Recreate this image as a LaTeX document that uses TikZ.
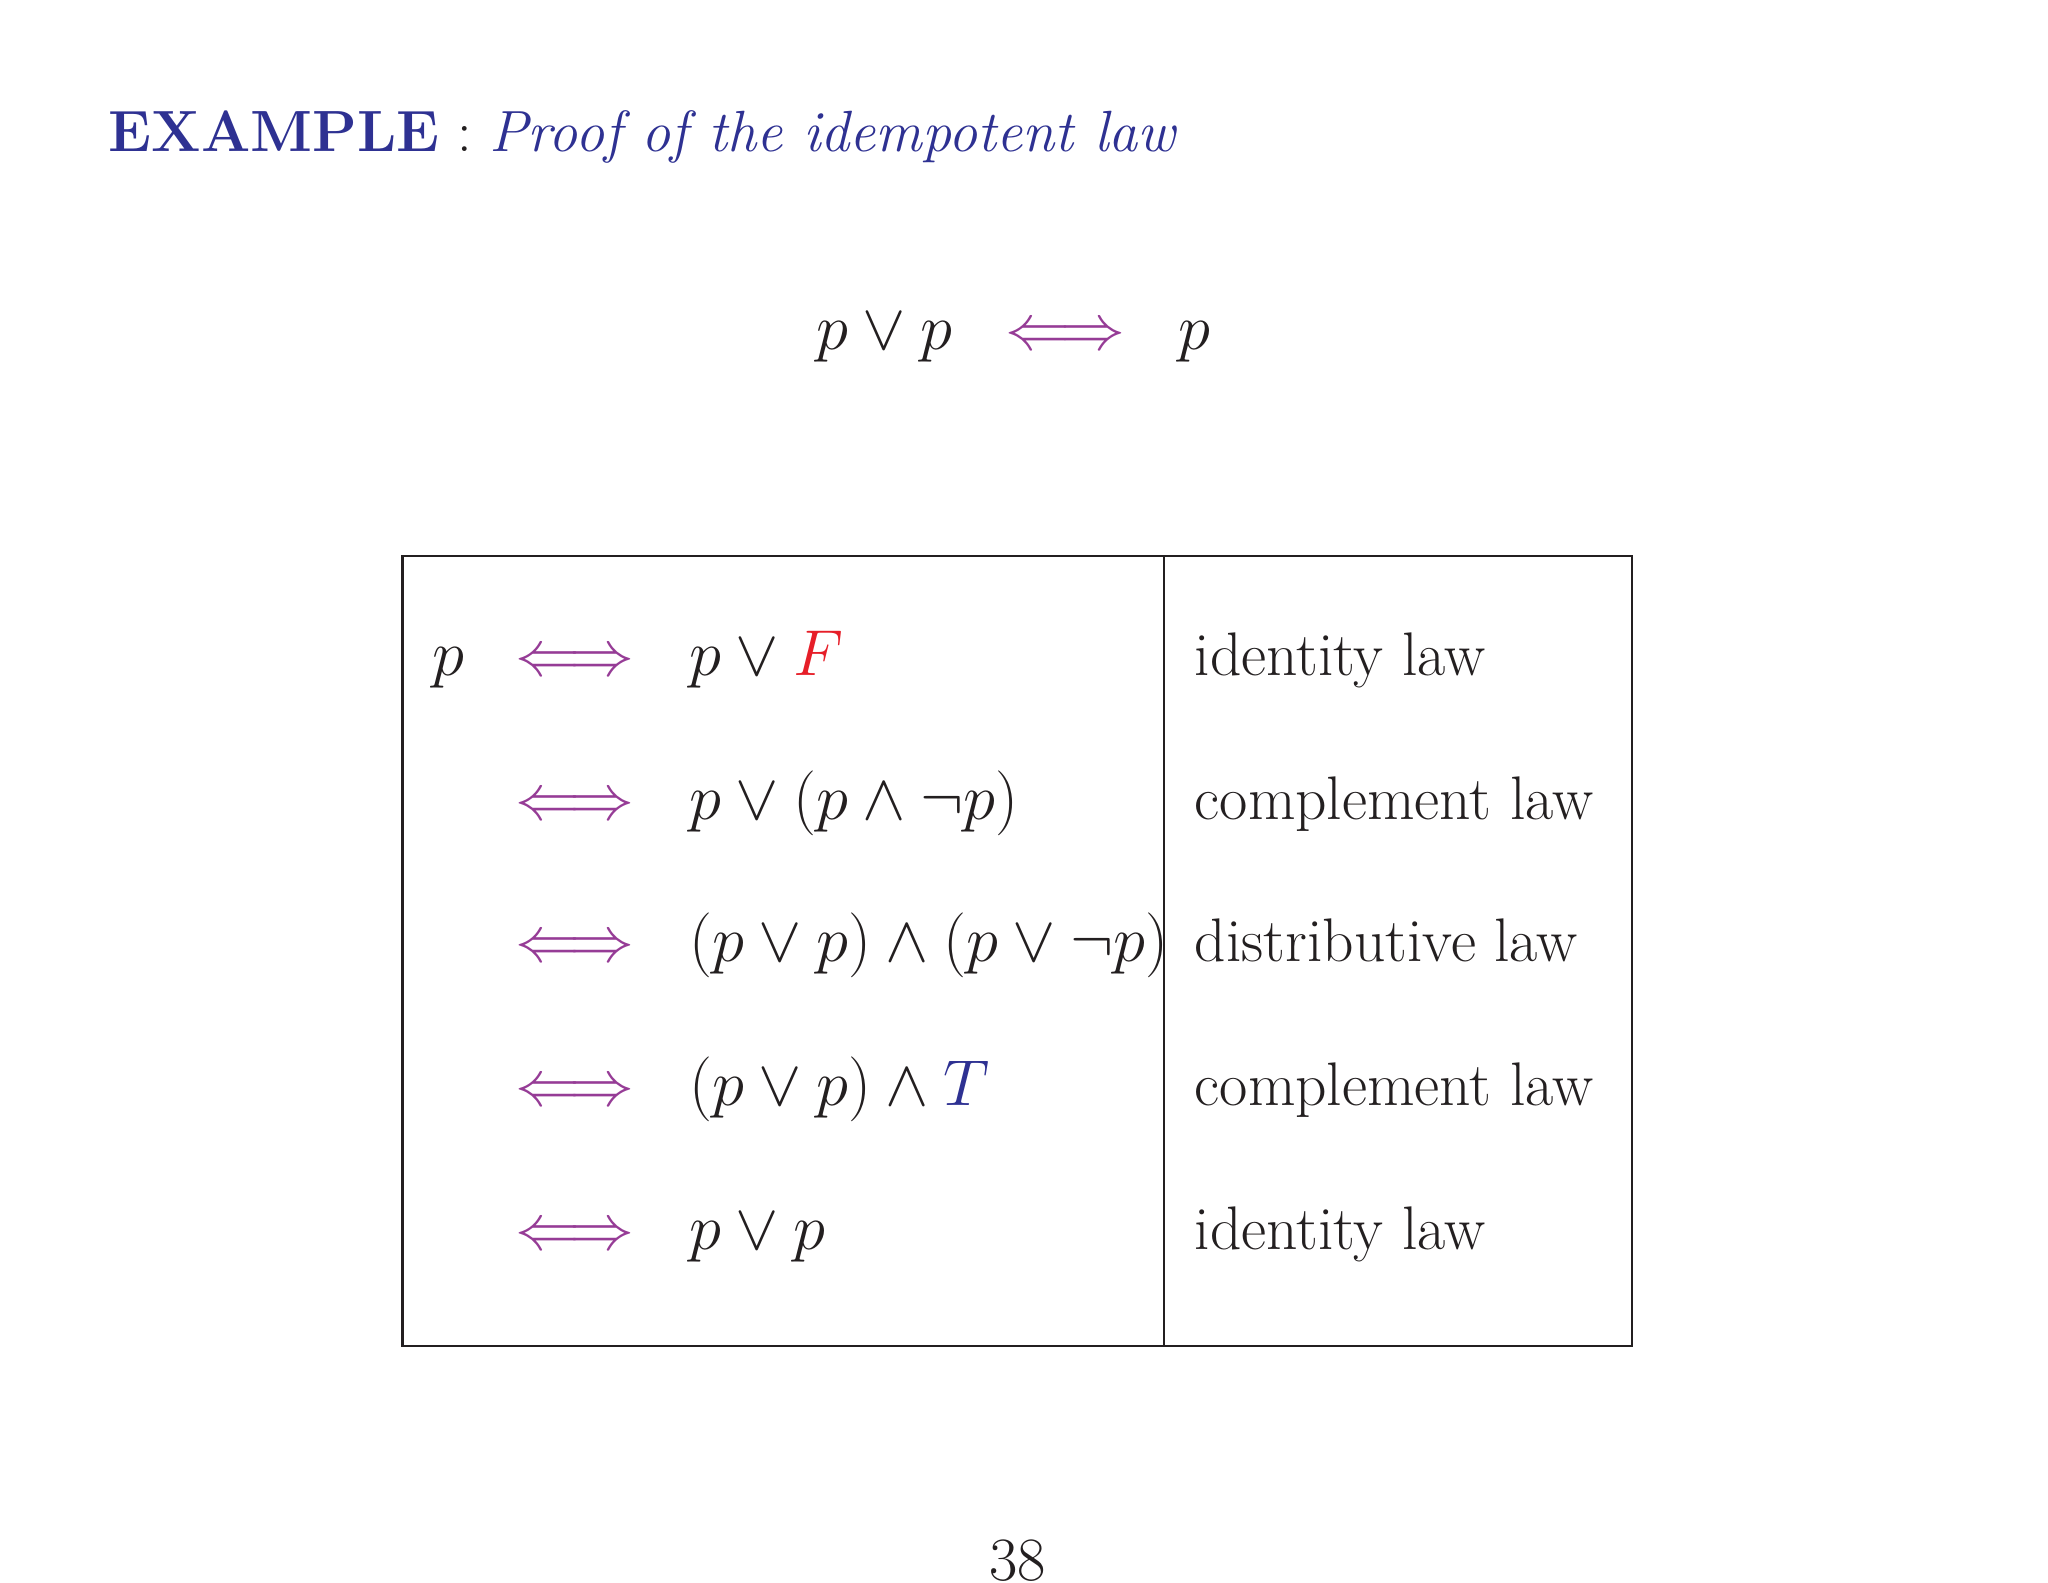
\documentclass[tikz,border=0pt]{standalone}
\usepackage{amsmath,amssymb}
\definecolor{tblue}{RGB}{46,49,146}
\definecolor{arr}{RGB}{150,60,150}
\definecolor{fred}{RGB}{230,30,40}
\definecolor{ink}{RGB}{35,31,32}
\newcommand{\iffar}{\mathrel{\textcolor{arr}{\Longleftrightarrow}}}
\begin{document}
\begin{tikzpicture}[x=0.506pt,y=-0.506pt,every node/.style={font=\fontsize{23.6}{28}\selectfont,inner sep=0pt,text=ink},
  lft/.style={anchor=base west},cen/.style={anchor=base}]
\useasboundingbox (0,0) rectangle (1552,1199);
\node[lft,font=\fontsize{22.3}{26}\selectfont] (title) at (82,115) {\textcolor{tblue}{\textbf{EXAMPLE}} : \textcolor{tblue}{\textit{Proof of the idempotent law}}};
\node[cen] (goal) at (768,265) {$p\vee p \;\;\iffar\;\; p$};
\draw[thick,ink] (305,421) rectangle (1237,1020);
\draw[thick,ink] (882,421) -- (882,1020);
\node[lft] (p0) at (327,512) {$p$};
\foreach \y/\f/\l [count=\i] in {
 512/{p\vee \textcolor{fred}{F}}/identity law,
 621/{p\vee(p\wedge\neg p)}/complement law,
 729/{(p\vee p)\wedge(p\vee\neg p)}/distributive law,
 838/{(p\vee p)\wedge \textcolor{tblue}{T}}/complement law,
 947/{p\vee p}/identity law}{
 \node[cen] (a\i) at (436,\y) {$\iffar$};
 \node[lft] (f\i) at (522,\y) {$\f$};
 \node[lft] (l\i) at (905,\y) {\l};
}
\node[cen] (num) at (771,1198) {38};
\end{tikzpicture}
\end{document}
